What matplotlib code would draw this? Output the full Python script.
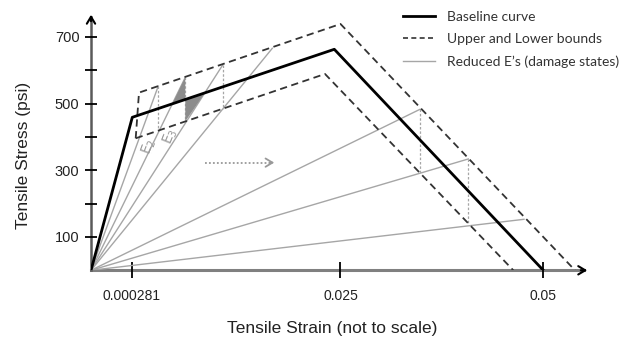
import matplotlib.pyplot as plt
import numpy as np
from matplotlib.lines import Line2D

plt.rcParams["font.family"] = "Liberation Sans"

# schematic x units (not to scale), y in psi
baseline_x = [0, 41.3, 243.3, 452.3]
baseline_y = [0, 459, 663, 0]

upper_x = [44.7, 48, 249.5, 484]
upper_y = [396, 533, 739, 0]

lower_x = [44.7, 234, 422.3]
lower_y = [396, 589, 0]

# reduced moduli lines, end points (origin -> end)
reduced_x = [67.3, 94.3, 131.7, 181.3, 329, 377.3, 433]
reduced_y = [553, 579, 616, 666, 483, 334, 153]
drop_idx = [0, 1, 2, 4, 5]  # lines with a drop to the lower bound

xtick_pos = [40.7, 249.5, 452.3]
xtick_labels = ["0.000281", "0.025", "0.05"]
ytick_major = [100, 300, 500, 700]
ytick_minor = [200, 400, 600]

W, H = 620, 338
fig = plt.figure(figsize=(W / 100, H / 100), dpi=100)
x0, y0 = 91, 270.3
xmax, ymax = 499, 775
ax = fig.add_axes([x0 / W, (H - y0) / H, xmax / W, (ymax / 3) / H])
ax.set_xlim(0, xmax)
ax.set_ylim(0, ymax)

for s in ax.spines.values():
    s.set_visible(False)

gray = "#a6a6a6"

# reduced E lines
for xe, ye in zip(reduced_x, reduced_y):
    ax.plot([0, xe], [0, ye], color=gray, lw=1.0, zorder=2)

# vertical drops to the lower bound
for i in drop_idx:
    xe, ye = reduced_x[i], reduced_y[i]
    yl = np.interp(xe, lower_x, lower_y)
    ax.plot([xe, xe], [ye, yl], color=gray, lw=0.9, ls=(0, (2, 1.5)), zorder=2)

# shaded bowtie between E lines around the baseline
def line_hit(slope, bx, by):
    # intersection of y = slope*x with baseline plastic segment
    m = (by[2] - by[1]) / (bx[2] - bx[1])
    c = by[1] - m * bx[1]
    xi = c / (slope - m)
    return xi, slope * xi

s2 = reduced_y[1] / reduced_x[1]
s4 = reduced_y[2] / reduced_x[2]
xa, ya = line_hit(s2, baseline_x, baseline_y)
xb, yb = line_hit(s4, baseline_x, baseline_y)
xv = reduced_x[1]
yv_bl = np.interp(xv, baseline_x, baseline_y)
yv_lb = np.interp(xv, lower_x, lower_y)
ax.fill([xv, xa, xv], [reduced_y[1], ya, yv_bl], color="#8c8c8c", lw=0, zorder=3)
ax.fill([xv, xv, xb], [yv_bl, yv_lb, yb], color="#8c8c8c", lw=0, zorder=3)

# bounds
ax.plot(upper_x, upper_y, color="#333333", lw=1.3, ls=(0, (4, 2.5)), zorder=4)
ax.plot(lower_x, lower_y, color="#333333", lw=1.3, ls=(0, (4, 2.5)), zorder=4)

# baseline
ax.plot(baseline_x, baseline_y, color="black", lw=2.0, zorder=5)

# labels on E lines
ax.text(58, 370, "E$_2$", rotation=70, color="#999999", fontsize=10,
        ha="center", va="center", family="DejaVu Sans")
ax.text(79, 401, "E$_3$", rotation=68, color="#999999", fontsize=10,
        ha="center", va="center", family="DejaVu Sans")

# dotted arrow
ax.plot([114, 180], [323, 323], color="#999999", lw=1.3, ls=(0, (1, 1.2)))
ax.annotate("", xy=(186, 323), xytext=(176, 323),
            arrowprops=dict(arrowstyle="->,head_length=0.5,head_width=0.3",
                            color="#999999", lw=1.3))

# axes with arrows
ax.plot([0, xmax - 6], [0, 0], color="#808080", lw=2.2, clip_on=False, zorder=1)
ax.plot([0, 0], [0, ymax - 15], color="#5a5a5a", lw=1.8, clip_on=False, zorder=1)
ax.annotate("", xy=(xmax, 0), xytext=(xmax - 12, 0),
            arrowprops=dict(arrowstyle="->,head_length=0.5,head_width=0.3",
                            color="black", lw=1.5), annotation_clip=False)
ax.annotate("", xy=(0, ymax), xytext=(0, ymax - 36),
            arrowprops=dict(arrowstyle="->,head_length=0.5,head_width=0.3",
                            color="black", lw=1.5), annotation_clip=False)

ax.set_xticks(xtick_pos, xtick_labels)
ax.set_yticks(ytick_major, [str(v) for v in ytick_major])
ax.set_yticks(ytick_minor, minor=True)
ax.tick_params(axis="x", direction="inout", length=11, width=1.3, pad=8,
               labelsize=10, colors="black", labelcolor="#222222")
ax.tick_params(axis="y", which="both", direction="inout", length=8.5, width=1.3,
               pad=4, labelsize=10.5, colors="black", labelcolor="#222222")

ax.set_xlabel("Tensile Strain (not to scale)", fontsize=12.5, color="#222222",
              va="center")
ax.set_ylabel("Tensile Stress (psi)", fontsize=12.5, color="#222222",
              va="center")
ax.xaxis.set_label_coords((332 - x0) / xmax, -(328 - y0) / (ymax / 3))
ax.yaxis.set_label_coords((24 - x0) / xmax, (y0 - 155) / (ymax / 3))

handles = [
    Line2D([], [], color="black", lw=2.0),
    Line2D([], [], color="#333333", lw=1.2, ls=(0, (3, 2))),
    Line2D([], [], color=gray, lw=1.0),
]
labels = ["Baseline curve", "Upper and Lower bounds", "Reduced E\u2019s (damage states)"]
fig.legend(handles, labels, loc="upper left", bbox_to_anchor=(403 / W, 1 - 11 / H),
           frameon=False, borderpad=0, borderaxespad=0, handlelength=2.3,
           handletextpad=0.9, labelspacing=0.72,
           prop={"family": "Lato", "size": 10}, labelcolor="#333333")

fig.savefig("out.png", dpi=100)
